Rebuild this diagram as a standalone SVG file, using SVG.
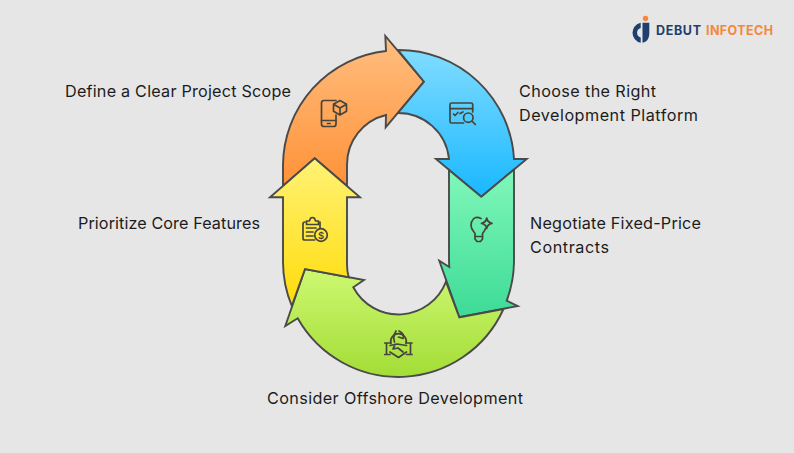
<svg xmlns="http://www.w3.org/2000/svg" width="794" height="453" viewBox="0 0 794 453">
<style>
.a{stroke:#4a4a4a;stroke-width:1.9;stroke-linejoin:miter;stroke-miterlimit:10}
.i{fill:none;stroke:#45453c;stroke-width:1.7;stroke-linejoin:round;stroke-linecap:round}
.t{font-family:Inter,"Noto Sans","Liberation Sans",sans-serif;font-size:16.2px;fill:#1c1c1c}
.l{font-family:Inter,"Liberation Sans",sans-serif;font-size:12.5px;font-weight:700}
</style>
<defs>
<linearGradient id="go" x1="0" y1="0" x2="0" y2="1"><stop offset="0" stop-color="#ffbe80"/><stop offset="1" stop-color="#ff9238"/></linearGradient>
<linearGradient id="gb" x1="0" y1="0" x2="0" y2="1"><stop offset="0" stop-color="#80dcff"/><stop offset="1" stop-color="#19b8ff"/></linearGradient>
<linearGradient id="gt" x1="0" y1="0" x2="0" y2="1"><stop offset="0" stop-color="#80f7ba"/><stop offset="1" stop-color="#3ddb96"/></linearGradient>
<linearGradient id="gy" x1="0" y1="0" x2="0" y2="1"><stop offset="0" stop-color="#fff275"/><stop offset="1" stop-color="#ffdc0a"/></linearGradient>
<linearGradient id="gl" x1="0" y1="0" x2="0" y2="1"><stop offset="0" stop-color="#cdf871"/><stop offset="1" stop-color="#a3dd36"/></linearGradient>
</defs>
<rect width="794" height="453" fill="#e6e6e6"/>
<g id="connectors">
<path id="arrow-orange" class="a" fill="url(#go)" d="M283,186 L283,165 A115.5,115.5 0 0 1 386,51 L385.3,36 L424,81.7 L385.7,127.3 L386,115 A51,51 0 0 0 347,165 L347,186 L314.7,158.3 Z"/>
<path id="arrow-blue" class="a" fill="url(#gb)" d="M398,50 A115.5,115.5 0 0 1 514,159 L526.7,159 L481.3,196.7 L436,159 L449,159 A51,51 0 0 0 398,113 L424,81.7 Z"/>
<path id="arrow-teal" class="a" fill="url(#gt)" d="M449,170 L481.3,196.7 L514,169.5 L514,262 A115.5,115.5 0 0 1 506.7,300.7 L517.7,306 L459.3,317.3 L439.3,260.7 L449.3,267 L449,262 Z"/>
<path id="arrow-lime" class="a" fill="url(#gl)" d="M305,269 L364,280 L353.3,287.3 A51,51 0 0 0 446,281.7 L459.3,317.3 L503.5,309 A115.5,115.5 0 0 1 297.7,318.3 L285.3,326 Z"/>
<path id="arrow-yellow" class="a" fill="url(#gy)" d="M314.7,158.3 L360,197.3 L347,197.3 L347,262 A51,51 0 0 0 348.7,277.2 L305,269 L291.8,306 A115.5,115.5 0 0 1 283,262 L283,197.3 L270,197.3 Z"/>
</g>
<g id="node-scope">
<text class="t" x="65" y="96.5" textLength="226">Define a Clear Project Scope</text>
<g class="i">
<path d="M336,100.500 H324 Q321.500,100.500 321.500,103 V124 Q321.500,126.500 324,126.500 H333.500 Q336,126.500 336,124 V115"/>
<path d="M321.500,120.500 H336 M327.500,123.500 H330"/>
<path d="M340,100.500 L346.500,104.200 V111.200 L340,115 L333.500,111.200 V104.200 Z M333.500,104.200 L340,108 L346.500,104.200 M340,108 V115"/>
</g>
</g>
<g id="node-platform">
<text class="t" x="519" y="97" textLength="137">Choose the Right</text>
<text class="t" x="519" y="121" textLength="179">Development Platform</text>
<g class="i">
<path d="M463.500,123 H451.500 Q450,123 450,121.500 V104.500 Q450,103 451.500,103 H471 Q472.700,103 472.700,104.500 V112"/>
<path d="M450,108.700 H472.700 M453.500,114 L455,115.500 L458,112.500 M460,113.500 L463,112"/>
<circle cx="468.300" cy="117.700" r="4.700"/>
<path d="M471.800,121 L475.300,124.300"/>
</g>
</g>
<g id="node-contracts">
<text class="t" x="530" y="229" textLength="171">Negotiate Fixed-Price</text>
<text class="t" x="530" y="253" textLength="79">Contracts</text>
<g class="i">
<path d="M481,218.500 C474,215 471,221 471,225.500 C471,229 473.500,231 475,233.500 V236.500 H482.500 V233.500 C484,231.500 485,230.500 485.500,228.500"/>
<path d="M475,236.500 V239 L477,241.500 H480.500 L482.500,239 V236.500"/>
<path d="M486.700,218 Q487.500,222.500 492,223.300 Q487.500,224 486.700,228.500 Q486,224 481.500,223.300 Q486,222.500 486.700,218 Z"/>
</g>
</g>
<g id="node-offshore">
<text class="t" x="267" y="404" textLength="256">Consider Offshore Development</text>
<g class="i">
<path d="M391,343.500 A7.800,7.800 0 1 1 406,343.500"/>
<path d="M396,331 Q392.500,337 394.500,342 M399,331 Q405,334 403,338.500 L398.500,337"/>
<path d="M386.500,343 V354.500 M384.800,343 H390 M384.800,354.500 H390 M410.500,343 V354.500 M412,343 H406.500 M412,354.500 H406.500"/>
<path d="M390,345.500 L397,344 L406.500,345.500 M390,352 L398.500,357.500 L406.500,352 M395,345 L393,349 L398,348 L403,352"/>
</g>
</g>
<g id="node-features">
<text class="t" x="78" y="229" textLength="182">Prioritize Core Features</text>
<g class="i">
<path d="M314.500,240 H305 Q303,240 303,238.500 V224 Q303,222 305,222"/>
<path d="M306.500,221 H309.500 Q310,217.500 312.500,217.500 Q315,217.500 315.500,221 H318.500 V224.500 H306.500 Z"/>
<path d="M320,222 V227.500 M306.500,228 H316 M306.500,232 H313 M306.500,236 H313"/>
<circle cx="321" cy="235" r="6.300"/>
</g>
<text x="321" y="238.500" text-anchor="middle" font-family="Inter,'Liberation Sans',sans-serif" font-size="9.500" font-weight="600" fill="#45453c">$</text>
</g>
<g id="logo">
<path d="M640.700,22.800 A10.200,10.200 0 0 0 640.700,42.800 L640.700,37.600 A5,5 0 0 1 640.700,28 Z" fill="#1f3f6e"/>
<path d="M642.500,22.800 H649.300 V34 Q649,41.500 642.500,42.800 Z" fill="#1f3f6e"/>
<circle cx="645.500" cy="18.500" r="2.700" fill="#f5873a"/>
<text class="l" x="656" y="34.500" fill="#1f3f6e" textLength="45">DEBUT</text>
<text class="l" x="706" y="34.500" fill="#f5873a" textLength="67">INFOTECH</text>
</g>
</svg>
